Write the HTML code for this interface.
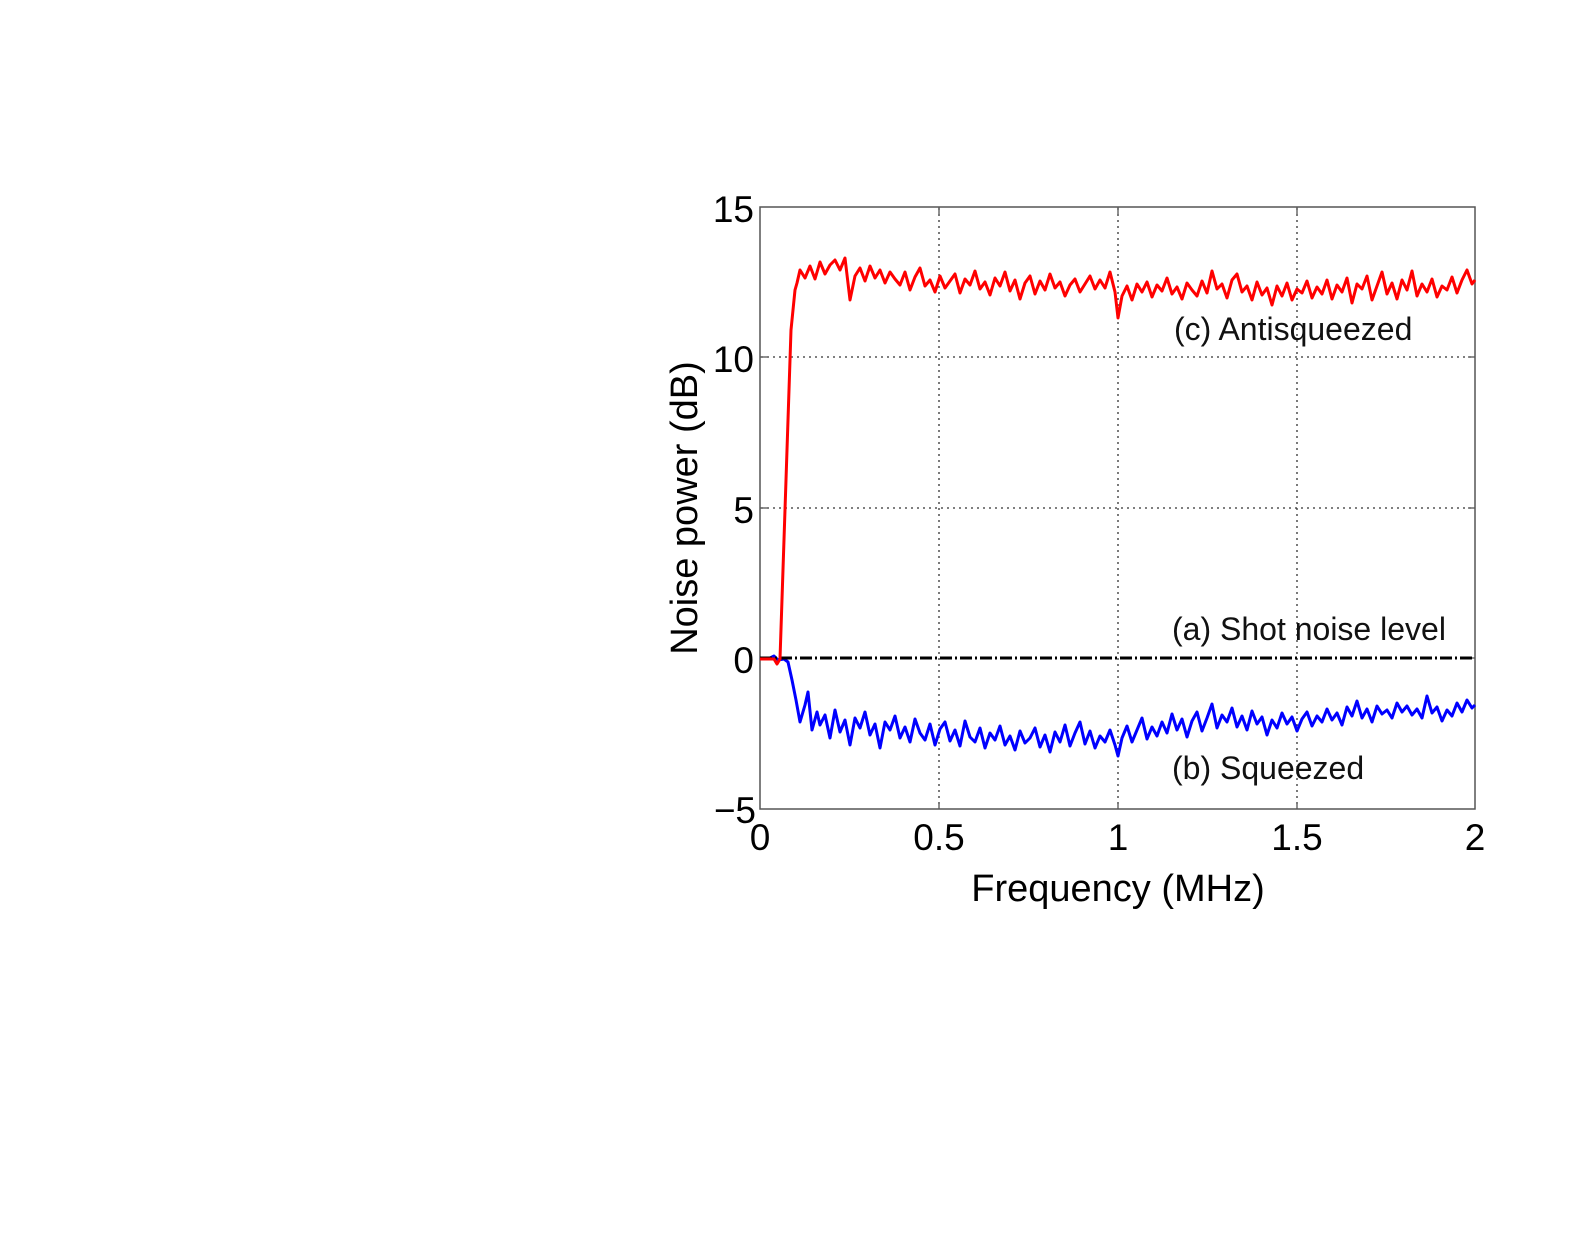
<!DOCTYPE html>
<html><head><meta charset="utf-8"><style>
html,body{margin:0;padding:0;background:#fff;}
svg{display:block;font-family:"Liberation Sans",Arial,sans-serif;}
</style></head><body>
<svg width="1576" height="1253" viewBox="0 0 1576 1253" xmlns="http://www.w3.org/2000/svg">
<rect width="1576" height="1253" fill="#fff"/>
<g stroke="#333" stroke-width="1.3" stroke-dasharray="2 4" fill="none">
<line x1="939" y1="208" x2="939" y2="808"/>
<line x1="1118" y1="208" x2="1118" y2="808"/>
<line x1="1297" y1="208" x2="1297" y2="808"/>
<line x1="761" y1="357" x2="1474" y2="357"/>
<line x1="761" y1="508" x2="1474" y2="508"/>
</g>
<rect x="760" y="207" width="715" height="602" fill="none" stroke="#555" stroke-width="1.5"/>
<g stroke="#555" stroke-width="1.3">
<line x1="939" y1="809" x2="939" y2="802"/><line x1="1118" y1="809" x2="1118" y2="802"/><line x1="1297" y1="809" x2="1297" y2="802"/>
<line x1="939" y1="207" x2="939" y2="214"/><line x1="1118" y1="207" x2="1118" y2="214"/><line x1="1297" y1="207" x2="1297" y2="214"/>
<line x1="760" y1="357" x2="767" y2="357"/><line x1="760" y1="508" x2="767" y2="508"/><line x1="760" y1="658" x2="767" y2="658"/>
<line x1="1475" y1="357" x2="1468" y2="357"/><line x1="1475" y1="508" x2="1468" y2="508"/><line x1="1475" y1="658" x2="1468" y2="658"/>
</g>
<path fill="none" stroke="#0000ff" stroke-width="3" stroke-linejoin="round" d="M760 659 L770 658 L774 656 L778 660 L784 659 L788 662 L792 680 L796 700 L800 722 L805 705 L808 692 L812 730 L817 712 L820 725 L825 715 L830 738 L835 710 L840 732 L845 720 L850 745 L855 718 L860 728 L865 712 L870 735 L875 724 L880 748 L885 722 L890 730 L895 716 L900 738 L905 727 L910 742 L915 719 L920 733 L925 740 L930 724 L935 745 L940 729 L945 722 L950 741 L955 730 L960 746 L965 721 L970 737 L975 742 L980 728 L985 748 L990 733 L995 740 L1000 726 L1005 745 L1010 736 L1015 750 L1020 731 L1025 743 L1030 738 L1035 728 L1040 747 L1045 735 L1050 752 L1055 732 L1060 742 L1065 725 L1070 746 L1075 733 L1080 722 L1085 744 L1090 731 L1095 748 L1100 736 L1105 742 L1110 730 L1115 745 L1118 756 L1122 738 L1127 726 L1132 742 L1137 730 L1142 718 L1147 739 L1152 727 L1157 736 L1162 722 L1167 733 L1172 714 L1177 730 L1182 719 L1187 737 L1192 721 L1197 712 L1202 731 L1207 718 L1212 704 L1217 728 L1222 715 L1227 722 L1232 708 L1237 727 L1242 716 L1247 730 L1252 711 L1257 724 L1262 717 L1267 735 L1272 720 L1277 728 L1282 713 L1287 724 L1292 717 L1297 731 L1302 719 L1307 712 L1312 726 L1317 716 L1322 722 L1327 709 L1332 720 L1337 713 L1342 725 L1347 707 L1352 716 L1357 701 L1362 718 L1367 709 L1372 722 L1377 706 L1382 714 L1387 710 L1392 718 L1397 703 L1402 712 L1407 706 L1412 715 L1417 709 L1422 718 L1427 696 L1432 713 L1437 707 L1442 721 L1447 710 L1452 716 L1457 703 L1462 712 L1467 700 L1472 708 L1475 705"/>
<line x1="760" y1="658" x2="1475" y2="658" stroke="#000" stroke-width="3" stroke-dasharray="12 3 2 3"/>
<path fill="none" stroke="#ff0000" stroke-width="3" stroke-linejoin="round" d="M760 659 L774 659 L777 664 L780 659 L786 480 L791 330 L795 290 L797 283 L800 270 L805 278 L810 266 L815 279 L820 262 L825 274 L830 265 L835 260 L840 270 L845 258 L850 300 L855 276 L860 268 L865 281 L870 266 L875 278 L880 270 L885 283 L890 272 L895 279 L900 285 L905 272 L910 290 L915 277 L920 268 L925 286 L930 280 L935 292 L940 276 L945 288 L950 281 L955 274 L960 293 L965 279 L970 285 L975 271 L980 289 L985 282 L990 295 L995 278 L1000 286 L1005 272 L1010 291 L1015 280 L1020 299 L1025 283 L1030 276 L1035 294 L1040 281 L1045 290 L1050 274 L1055 288 L1060 282 L1065 296 L1070 285 L1075 279 L1080 292 L1085 284 L1090 276 L1095 289 L1100 280 L1105 288 L1110 272 L1115 292 L1118 318 L1122 296 L1127 286 L1132 300 L1137 284 L1142 292 L1147 282 L1152 297 L1157 285 L1162 291 L1167 278 L1172 294 L1177 287 L1182 299 L1187 283 L1192 290 L1197 296 L1202 281 L1207 293 L1212 271 L1217 289 L1222 284 L1227 298 L1232 280 L1237 274 L1242 292 L1247 286 L1252 300 L1257 282 L1262 295 L1267 288 L1272 305 L1277 286 L1282 296 L1287 283 L1292 300 L1297 289 L1302 293 L1307 281 L1312 298 L1317 287 L1322 294 L1327 280 L1332 299 L1337 285 L1342 292 L1347 278 L1352 303 L1357 284 L1362 289 L1367 276 L1372 300 L1377 286 L1382 272 L1387 294 L1392 283 L1397 299 L1402 280 L1407 290 L1412 271 L1417 296 L1422 284 L1427 292 L1432 279 L1437 297 L1442 286 L1447 290 L1452 277 L1457 293 L1462 280 L1467 270 L1472 284 L1475 280"/>
<g font-size="37" fill="#000" text-anchor="end">
<text x="754" y="222">15</text>
<text x="754" y="372">10</text>
<text x="754" y="523">5</text>
<text x="754" y="673">0</text>
<text x="756" y="823">−5</text>
</g>
<g font-size="37" fill="#000" text-anchor="middle">
<text x="760" y="850">0</text>
<text x="939" y="850">0.5</text>
<text x="1118" y="850">1</text>
<text x="1297" y="850">1.5</text>
<text x="1475" y="850">2</text>
<text x="1118" y="901" font-size="38">Frequency (MHz)</text>
<text transform="translate(697,508) rotate(-90)" font-size="38">Noise power (dB)</text>
</g>
<g font-size="32" fill="#111">
<text x="1174" y="340">(c) Antisqueezed</text>
<text x="1172" y="640">(a) Shot noise level</text>
<text x="1172" y="779">(b) Squeezed</text>
</g>
</svg>
</body></html>
